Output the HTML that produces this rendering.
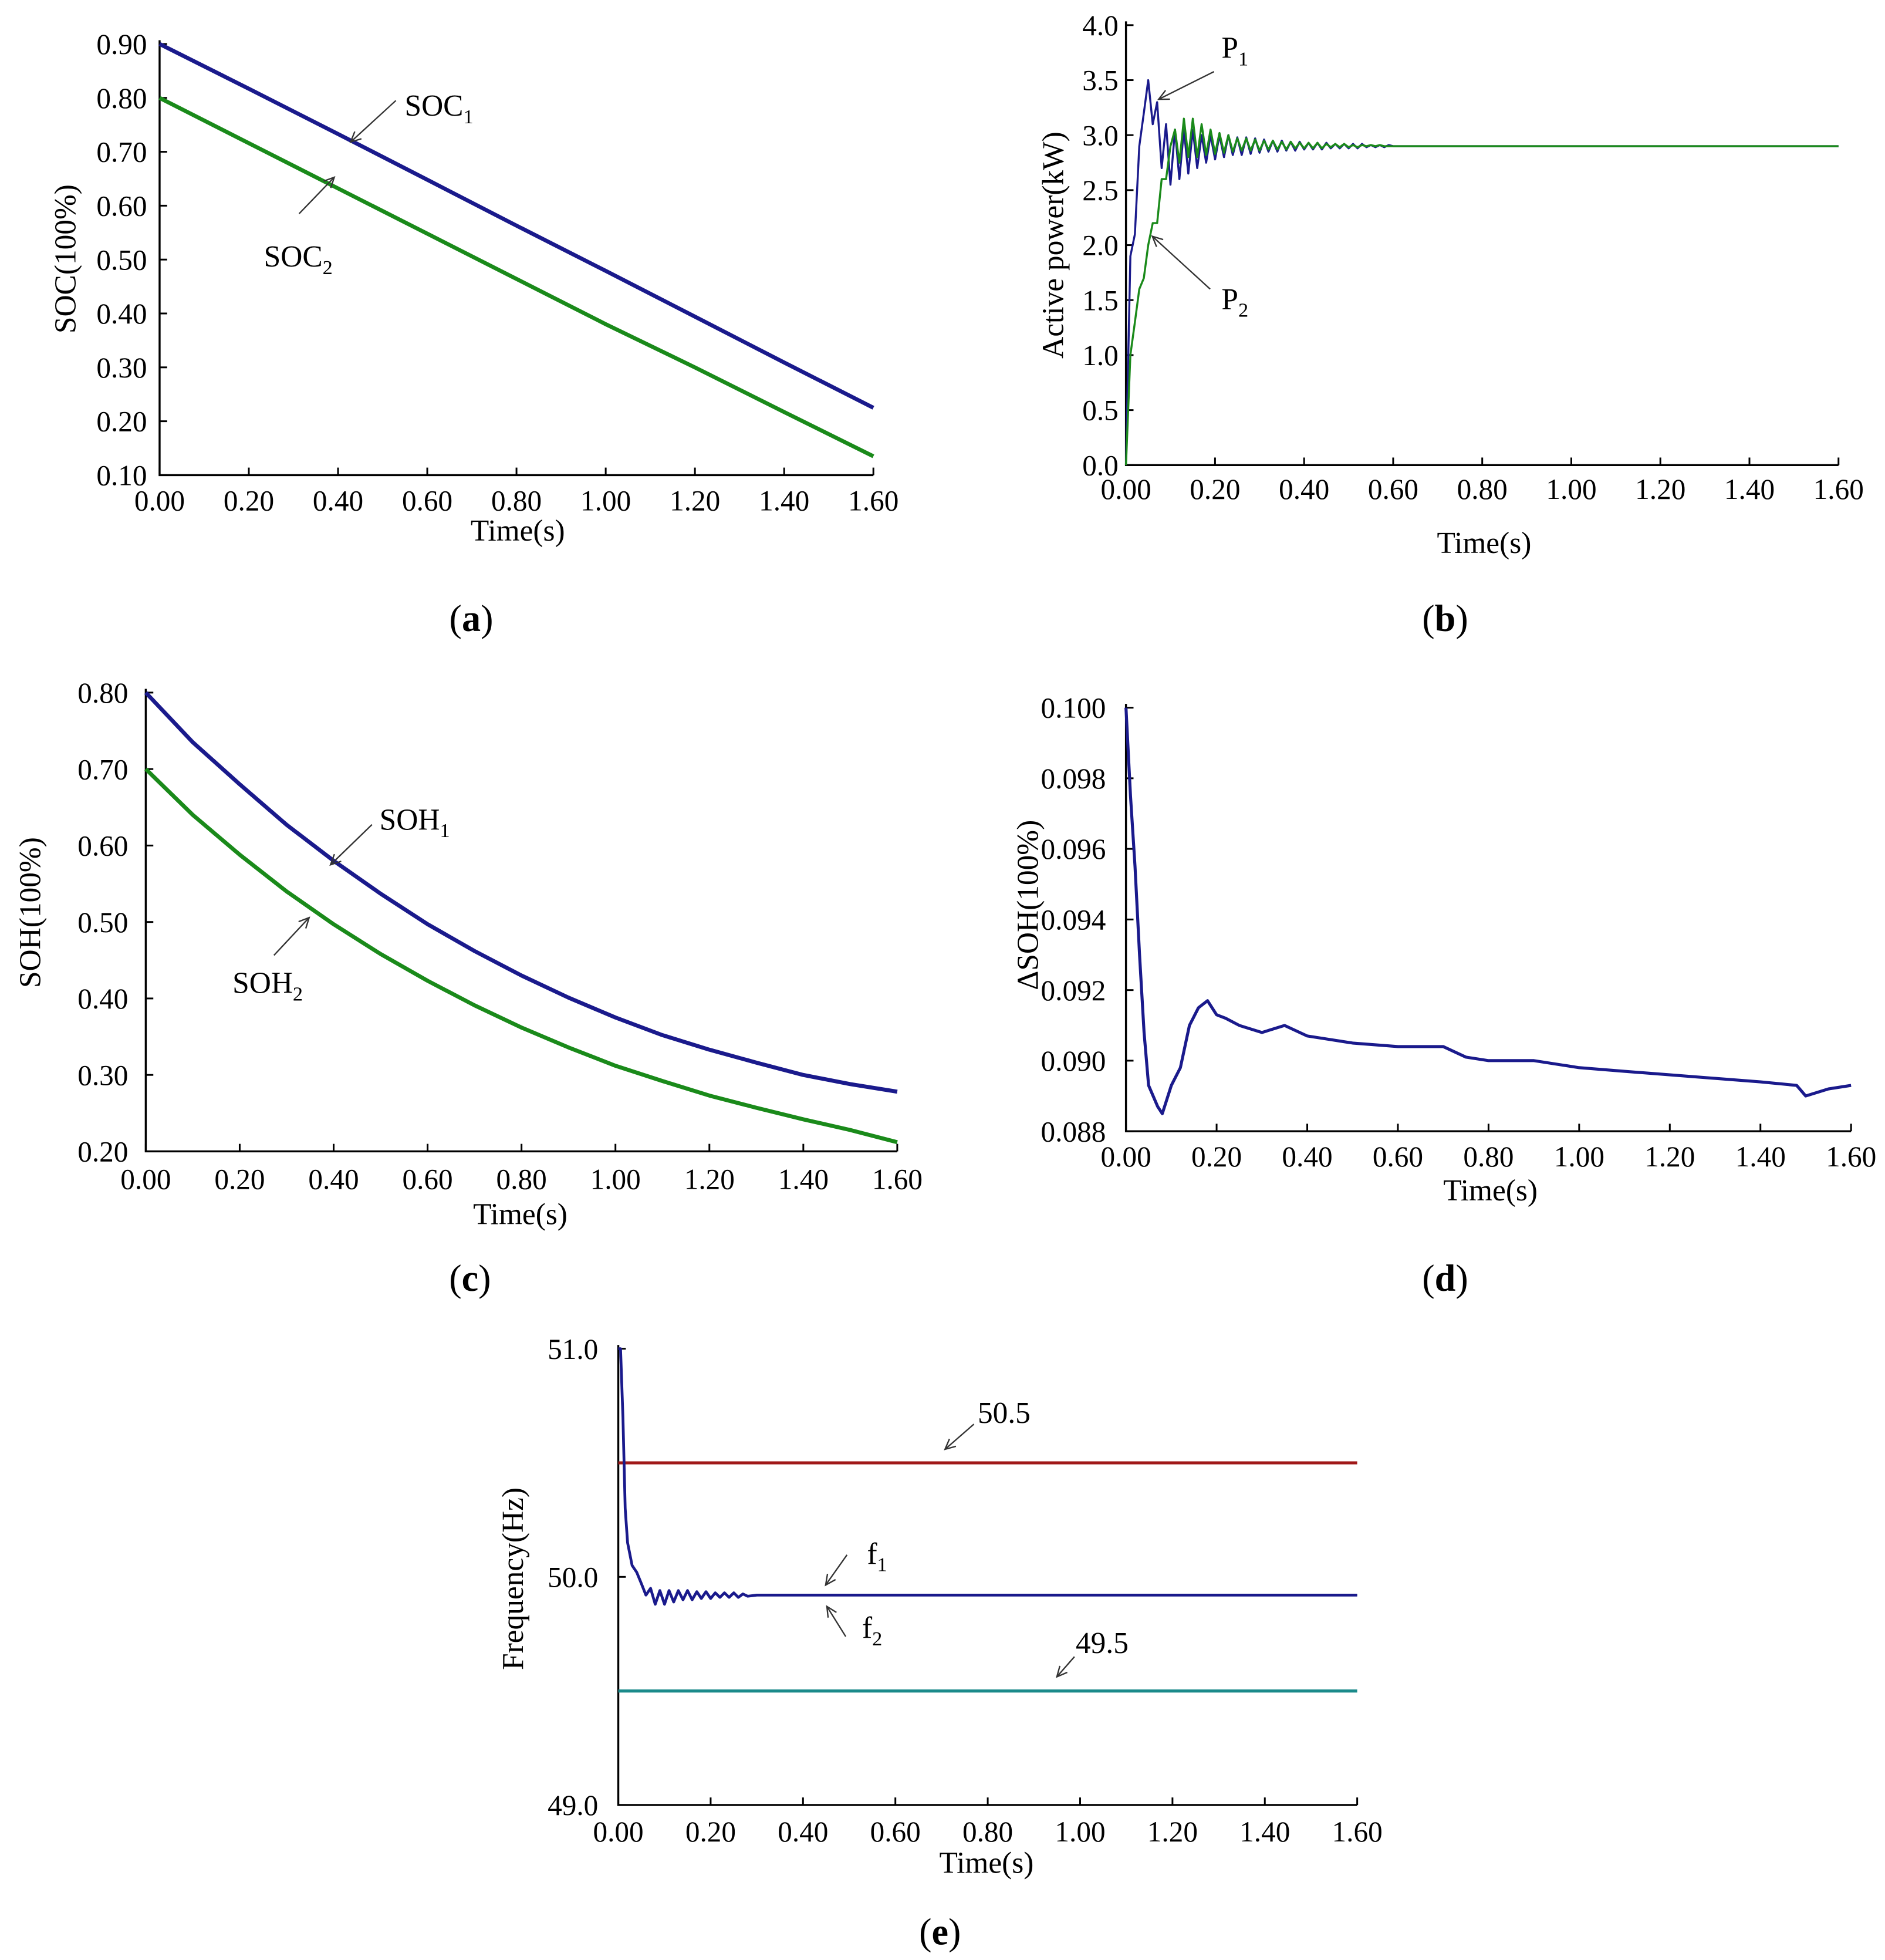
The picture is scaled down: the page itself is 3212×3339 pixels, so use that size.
<!DOCTYPE html>
<html><head><meta charset="utf-8"><style>
html,body{margin:0;padding:0;background:#fff}
svg{display:block}
text{font-family:"Liberation Serif",serif;fill:#000}
</style></head><body>
<svg id="fig" xmlns="http://www.w3.org/2000/svg" width="3212" height="3339" viewBox="0 0 1500 1559.3"></svg>
<script>
// ---------- data ----------
const xTicks = [0,0.2,0.4,0.6,0.8,1.0,1.2,1.4,1.6];
const xTickLabels = ["0.00","0.20","0.40","0.60","0.80","1.00","1.20","1.40","1.60"];

const socT = [0,0.2,0.4,0.6,0.8,1.0,1.2,1.4,1.6];
const soc1 = [0.900,0.817,0.733,0.648,0.563,0.479,0.394,0.309,0.225];
const soc2 = [0.800,0.716,0.632,0.548,0.464,0.380,0.300,0.217,0.135];
const socYTicks = [0.10,0.20,0.30,0.40,0.50,0.60,0.70,0.80,0.90];
const socYLabels = ["0.10","0.20","0.30","0.40","0.50","0.60","0.70","0.80","0.90"];

const pT = [0,0.01,0.02,0.03,0.04,0.05,0.06,0.07,0.08,0.09,0.10,0.11,0.12,0.13,0.14,0.15,0.16,0.17,0.18,0.19,0.20,0.21,0.22,0.23,0.24,0.25,0.26,0.27,0.28,0.29,0.30,0.31,0.32,0.33,0.34,0.35,0.36,0.37,0.38,0.39,0.40,0.41,0.42,0.43,0.44,0.45,0.46,0.47,0.48,0.49,0.50,0.51,0.52,0.53,0.54,0.55,0.56,0.57,0.58,0.59,0.60,0.8,1.0,1.2,1.4,1.6];
const p1 = [0.0,1.9,2.1,2.9,3.2,3.5,3.1,3.3,2.7,3.1,2.55,3.05,2.6,3.05,2.65,3.05,2.7,3.0,2.75,3.0,2.78,3.0,2.8,3.0,2.82,2.98,2.82,2.98,2.83,2.97,2.84,2.96,2.85,2.95,2.85,2.95,2.86,2.94,2.86,2.94,2.87,2.93,2.87,2.93,2.87,2.93,2.88,2.92,2.88,2.92,2.88,2.92,2.88,2.92,2.89,2.91,2.89,2.91,2.89,2.91,2.9,2.9,2.9,2.9,2.9,2.9];
const p2 = [0.0,1.0,1.3,1.6,1.7,2.0,2.2,2.2,2.6,2.6,2.9,3.05,2.75,3.15,2.8,3.15,2.8,3.1,2.82,3.05,2.83,3.02,2.84,3.0,2.85,2.97,2.86,2.97,2.86,2.96,2.86,2.95,2.87,2.95,2.87,2.94,2.87,2.94,2.88,2.93,2.88,2.93,2.88,2.93,2.88,2.92,2.89,2.92,2.89,2.92,2.89,2.91,2.89,2.91,2.9,2.91,2.9,2.91,2.9,2.9,2.9,2.9,2.9,2.9,2.9,2.9];
const pYTicks = [0,0.5,1.0,1.5,2.0,2.5,3.0,3.5,4.0];
const pYLabels = ["0.0","0.5","1.0","1.5","2.0","2.5","3.0","3.5","4.0"];

const sohT = [0,0.1,0.2,0.3,0.4,0.5,0.6,0.7,0.8,0.9,1.0,1.1,1.2,1.3,1.4,1.5,1.6];
const soh1 = [0.800,0.735,0.680,0.627,0.580,0.537,0.497,0.462,0.430,0.401,0.375,0.352,0.333,0.316,0.300,0.288,0.278];
const soh2 = [0.700,0.640,0.588,0.540,0.497,0.458,0.423,0.391,0.362,0.336,0.312,0.292,0.273,0.257,0.242,0.228,0.212];
const sohYTicks = [0.20,0.30,0.40,0.50,0.60,0.70,0.80];
const sohYLabels = ["0.20","0.30","0.40","0.50","0.60","0.70","0.80"];

const dT = [0,0.01,0.02,0.03,0.04,0.05,0.07,0.08,0.10,0.12,0.14,0.16,0.18,0.20,0.22,0.25,0.30,0.35,0.40,0.45,0.50,0.60,0.70,0.75,0.80,0.90,0.95,1.00,1.10,1.20,1.30,1.40,1.48,1.50,1.55,1.60];
const dSoh = [0.1000,0.0975,0.0955,0.0930,0.0908,0.0893,0.0887,0.0885,0.0893,0.0898,0.0910,0.0915,0.0917,0.0913,0.0912,0.0910,0.0908,0.0910,0.0907,0.0906,0.0905,0.0904,0.0904,0.0901,0.0900,0.0900,0.0899,0.0898,0.0897,0.0896,0.0895,0.0894,0.0893,0.0890,0.0892,0.0893];
const dYTicks = [0.088,0.090,0.092,0.094,0.096,0.098,0.100];
const dYLabels = ["0.088","0.090","0.092","0.094","0.096","0.098","0.100"];

const fT = [0,0.005,0.01,0.015,0.02,0.03,0.04,0.05,0.06,0.07,0.08,0.09,0.10,0.11,0.12,0.13,0.14,0.15,0.16,0.17,0.18,0.19,0.20,0.21,0.22,0.23,0.24,0.25,0.26,0.27,0.28,0.30,0.40,0.80,1.20,1.60];
const fSeries = [51.0,51.0,50.7,50.3,50.15,50.05,50.02,49.97,49.92,49.95,49.88,49.94,49.88,49.94,49.89,49.94,49.90,49.94,49.90,49.935,49.905,49.935,49.905,49.93,49.91,49.93,49.91,49.93,49.91,49.925,49.915,49.92,49.92,49.92,49.92,49.92];
const fUpper = [50.5,50.5];
const fLower = [49.5,49.5];
const limT = [0,1.6];
const fYTicks = [49.0,50.0,51.0];
const fYLabels = ["49.0","50.0","51.0"];

// ---------- drawing ----------
const NS = "http://www.w3.org/2000/svg";
const svg = document.getElementById("fig");
function el(tag, attrs, parent){ const e=document.createElementNS(NS,tag); for(const k in attrs) e.setAttribute(k,attrs[k]); (parent||svg).appendChild(e); return e; }
function txt(s, x, y, anchor, size, parent){ const t=el("text",{x:x,y:y,"text-anchor":anchor||"middle","font-size":size||23},parent); t.textContent=s; return t; }

function panel(cfg){
  const g = el("g",{});
  
  
  const sx = v => cfg.x0 + (v - 0)/(1.6) * (cfg.x1 - cfg.x0);
  const sy = v => cfg.yb + (v - cfg.ymin)/(cfg.ymax - cfg.ymin) * (cfg.yt - cfg.yb);
  // axes
  const ax = el("path",{d:`M${cfg.x0},${cfg.yt-3} L${cfg.x0},${cfg.yb} L${cfg.x1},${cfg.yb}`,fill:"none",stroke:"#000","stroke-width":1.6},g);
  
  
  xTicks.forEach((v,i)=>{
    const x=sx(v);
    el("line",{x1:x,y1:cfg.yb,x2:x,y2:cfg.yb-6,stroke:"#000","stroke-width":1.4},g);
    const t=txt(xTickLabels[i],x,cfg.yb+cfg.xlOff,"middle",23,g);
    
    
  });
  cfg.yTicks.forEach((v,i)=>{
    const y=sy(v);
    el("line",{x1:cfg.x0,y1:y,x2:cfg.x0+6,y2:y,stroke:"#000","stroke-width":1.4},g);
    const t=txt(cfg.yLabels[i],cfg.x0-cfg.ylOff,y+8,"end",23,g);
    
    
  });
  const xt=txt("Time(s)",cfg.xtX,cfg.xtY,"middle",24,g);
  
  
  const yt=txt(cfg.ytitle,0,0,"middle",24,g);
  yt.setAttribute("transform",`translate(${cfg.ytX},${cfg.ytY}) rotate(-90)`);
  
  
  cfg.series.forEach(s=>{
    let d="";
    s.t.forEach((tv,i)=>{ d += (i?"L":"M")+sx(tv).toFixed(1)+","+sy(s.v[i]).toFixed(1)+" "; });
    const p=el("path",{d:d,fill:"none",stroke:s.color,"stroke-width":s.w,"stroke-linejoin":"round"},g);
    
    
  });
  const cap=el("text",{x:cfg.capX,y:cfg.capY,"text-anchor":"middle","font-size":30},g);
  cap.innerHTML='(<tspan font-weight="bold">'+cfg.cap+'</tspan>)';
  
  
  (cfg.notes||[]).forEach(n=>{
    const l=el("line",{x1:n.lx1,y1:n.ly1,x2:n.lx2,y2:n.ly2,stroke:"#333","stroke-width":1.1},g);
    
    
    // arrowhead
    const ang=Math.atan2(n.ly2-n.ly1,n.lx2-n.lx1), a=9;
    const h=el("path",{d:`M${n.lx2-a*Math.cos(ang-0.45)},${n.ly2-a*Math.sin(ang-0.45)} L${n.lx2},${n.ly2} L${n.lx2-a*Math.cos(ang+0.45)},${n.ly2-a*Math.sin(ang+0.45)}`,fill:"none",stroke:"#333","stroke-width":1.1},g);
    
    
    const t=el("text",{x:n.tx,y:n.ty,"text-anchor":"start","font-size":24},g);
    t.innerHTML = n.sub ? n.label+'<tspan font-size="16" dy="6">'+n.sub+'</tspan>' : n.label;
    
    
  });
}

const BLUE="#1a1a8c", GREEN="#1a8a1a";

panel({name:"panel-a-soc",x0:127,x1:695,yt:35,yb:378,ymin:0.10,ymax:0.90,yTicks:socYTicks,yLabels:socYLabels,
  xlOff:28,ylOff:10,xtX:412,xtY:430,ytitle:"SOC(100%)",ytX:60,ytY:206,cap:"a",capX:375,capY:502,
  series:[{name:"soc1-line",t:socT,v:soc1,color:BLUE,w:3.2},{name:"soc2-line",t:socT,v:soc2,color:GREEN,w:3.2}],
  notes:[{label:"SOC",sub:"1",tx:322,ty:92,lx1:315,ly1:80,lx2:279,ly2:113},
         {label:"SOC",sub:"2",tx:210,ty:212,lx1:238,ly1:170,lx2:266,ly2:141}]});

panel({name:"panel-b-active-power",x0:896,x1:1463,yt:20,yb:370,ymin:0,ymax:4,yTicks:pYTicks,yLabels:pYLabels,
  xlOff:27,ylOff:6,xtX:1181,xtY:440,ytitle:"Active power(kW)",ytX:846,ytY:195,cap:"b",capX:1150,capY:502,
  series:[{name:"p1-line",t:pT,v:p1,color:BLUE,w:1.6},{name:"p2-line",t:pT,v:p2,color:GREEN,w:1.6}],
  notes:[{label:"P",sub:"1",tx:972,ty:46,lx1:966,ly1:57,lx2:922,ly2:79},
         {label:"P",sub:"2",tx:972,ty:246,lx1:963,ly1:230,lx2:917,ly2:188}]});

panel({name:"panel-c-soh",x0:116,x1:714,yt:551,yb:916,ymin:0.20,ymax:0.80,yTicks:sohYTicks,yLabels:sohYLabels,
  xlOff:30,ylOff:14,xtX:414,xtY:974,ytitle:"SOH(100%)",ytX:32,ytY:726,cap:"c",capX:374,capY:1027,
  series:[{name:"soh1-line",t:sohT,v:soh1,color:BLUE,w:3.2},{name:"soh2-line",t:sohT,v:soh2,color:GREEN,w:3.2}],
  notes:[{label:"SOH",sub:"1",tx:302,ty:660,lx1:296,ly1:656,lx2:263,ly2:688},
         {label:"SOH",sub:"2",tx:185,ty:790,lx1:218,ly1:760,lx2:246,ly2:730}]});

panel({name:"panel-d-delta-soh",x0:896,x1:1473,yt:563,yb:900,ymin:0.088,ymax:0.100,yTicks:dYTicks,yLabels:dYLabels,
  xlOff:28,ylOff:16,xtX:1186,xtY:955,ytitle:"\u0394SOH(100%)",ytX:826,ytY:720,cap:"d",capX:1150,capY:1027,
  series:[{name:"delta-soh-line",t:dT,v:dSoh,color:BLUE,w:2.4}]});

panel({name:"panel-e-frequency",x0:492,x1:1080,yt:1073,yb:1436,ymin:49.0,ymax:51.0,yTicks:fYTicks,yLabels:fYLabels,
  xlOff:29,ylOff:16,xtX:785,xtY:1490,ytitle:"Frequency(Hz)",ytX:416,ytY:1256,cap:"e",capX:748,capY:1547,
  series:[{name:"upper-limit-50.5",t:limT,v:fUpper,color:"#a01818",w:2.4},
          {name:"lower-limit-49.5",t:limT,v:fLower,color:"#1a8a8a",w:2.4},
          {name:"f2-line",t:fT,v:fSeries,color:GREEN,w:1.4},
          {name:"f1-line",t:fT,v:fSeries,color:BLUE,w:2.2}],
  notes:[{label:"50.5",tx:778,ty:1132,lx1:775,ly1:1133,lx2:752,ly2:1153},
         {label:"f",sub:"1",tx:690,ty:1244,lx1:674,ly1:1237,lx2:657,ly2:1261},
         {label:"f",sub:"2",tx:686,ty:1303,lx1:673,ly1:1302,lx2:658,ly2:1278},
         {label:"49.5",tx:856,ty:1315,lx1:855,ly1:1318,lx2:841,ly2:1334}]});
</script>
</body></html>
